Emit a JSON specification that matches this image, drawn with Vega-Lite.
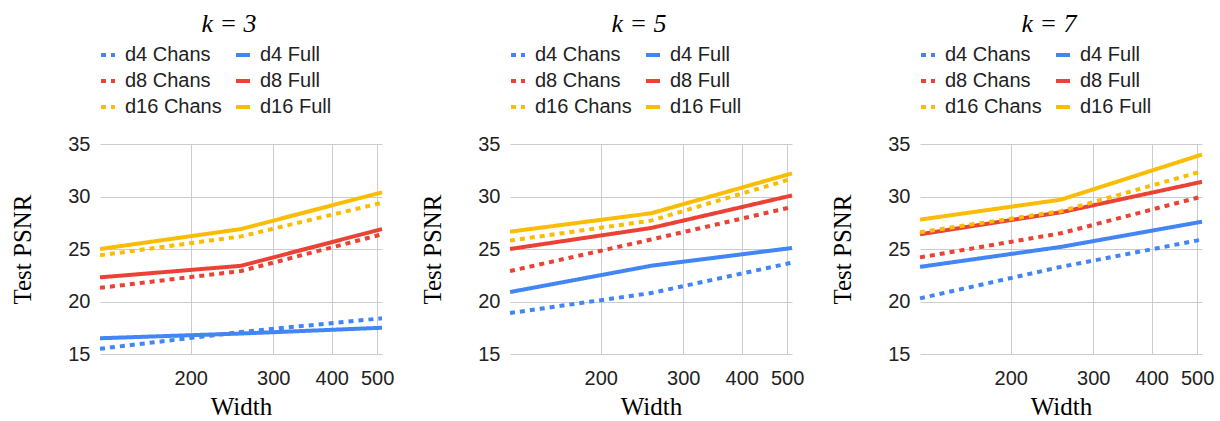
{
  "$schema": "https://vega.github.io/schema/vega-lite/v6.json",
  "background": "white",
  "padding": {"left": 10, "top": 11, "right": 5, "bottom": 5},
  "data": {"values": [
    {"k": 3, "series": "d4 Chans", "width": 128, "psnr": 15.5},
    {"k": 3, "series": "d4 Chans", "width": 256, "psnr": 17.1},
    {"k": 3, "series": "d4 Chans", "width": 512, "psnr": 18.4},
    {"k": 3, "series": "d4 Full", "width": 128, "psnr": 16.5},
    {"k": 3, "series": "d4 Full", "width": 256, "psnr": 16.95},
    {"k": 3, "series": "d4 Full", "width": 512, "psnr": 17.5},
    {"k": 3, "series": "d8 Chans", "width": 128, "psnr": 21.3},
    {"k": 3, "series": "d8 Chans", "width": 256, "psnr": 22.9},
    {"k": 3, "series": "d8 Chans", "width": 512, "psnr": 26.4},
    {"k": 3, "series": "d8 Full", "width": 128, "psnr": 22.3},
    {"k": 3, "series": "d8 Full", "width": 256, "psnr": 23.4},
    {"k": 3, "series": "d8 Full", "width": 512, "psnr": 26.9},
    {"k": 3, "series": "d16 Chans", "width": 128, "psnr": 24.4},
    {"k": 3, "series": "d16 Chans", "width": 256, "psnr": 26.2},
    {"k": 3, "series": "d16 Chans", "width": 512, "psnr": 29.4},
    {"k": 3, "series": "d16 Full", "width": 128, "psnr": 25.0},
    {"k": 3, "series": "d16 Full", "width": 256, "psnr": 26.9},
    {"k": 3, "series": "d16 Full", "width": 512, "psnr": 30.4},
    {"k": 5, "series": "d4 Chans", "width": 128, "psnr": 18.9},
    {"k": 5, "series": "d4 Chans", "width": 256, "psnr": 20.8},
    {"k": 5, "series": "d4 Chans", "width": 512, "psnr": 23.7},
    {"k": 5, "series": "d4 Full", "width": 128, "psnr": 20.9},
    {"k": 5, "series": "d4 Full", "width": 256, "psnr": 23.4},
    {"k": 5, "series": "d4 Full", "width": 512, "psnr": 25.1},
    {"k": 5, "series": "d8 Chans", "width": 128, "psnr": 22.9},
    {"k": 5, "series": "d8 Chans", "width": 256, "psnr": 25.9},
    {"k": 5, "series": "d8 Chans", "width": 512, "psnr": 29.0},
    {"k": 5, "series": "d8 Full", "width": 128, "psnr": 25.0},
    {"k": 5, "series": "d8 Full", "width": 256, "psnr": 27.0},
    {"k": 5, "series": "d8 Full", "width": 512, "psnr": 30.1},
    {"k": 5, "series": "d16 Chans", "width": 128, "psnr": 25.8},
    {"k": 5, "series": "d16 Chans", "width": 256, "psnr": 27.7},
    {"k": 5, "series": "d16 Chans", "width": 512, "psnr": 31.7},
    {"k": 5, "series": "d16 Full", "width": 128, "psnr": 26.65},
    {"k": 5, "series": "d16 Full", "width": 256, "psnr": 28.4},
    {"k": 5, "series": "d16 Full", "width": 512, "psnr": 32.2},
    {"k": 7, "series": "d4 Chans", "width": 128, "psnr": 20.3},
    {"k": 7, "series": "d4 Chans", "width": 256, "psnr": 23.3},
    {"k": 7, "series": "d4 Chans", "width": 512, "psnr": 25.9},
    {"k": 7, "series": "d4 Full", "width": 128, "psnr": 23.3},
    {"k": 7, "series": "d4 Full", "width": 256, "psnr": 25.2},
    {"k": 7, "series": "d4 Full", "width": 512, "psnr": 27.6},
    {"k": 7, "series": "d8 Chans", "width": 128, "psnr": 24.2},
    {"k": 7, "series": "d8 Chans", "width": 256, "psnr": 26.5},
    {"k": 7, "series": "d8 Chans", "width": 512, "psnr": 30.0},
    {"k": 7, "series": "d8 Full", "width": 128, "psnr": 26.4},
    {"k": 7, "series": "d8 Full", "width": 256, "psnr": 28.5},
    {"k": 7, "series": "d8 Full", "width": 512, "psnr": 31.4},
    {"k": 7, "series": "d16 Chans", "width": 128, "psnr": 26.6},
    {"k": 7, "series": "d16 Chans", "width": 256, "psnr": 28.6},
    {"k": 7, "series": "d16 Chans", "width": 512, "psnr": 32.4},
    {"k": 7, "series": "d16 Full", "width": 128, "psnr": 27.8},
    {"k": 7, "series": "d16 Full", "width": 256, "psnr": 29.7},
    {"k": 7, "series": "d16 Full", "width": 512, "psnr": 34.0}
  ]},
  "hconcat": [
    {
      "width": 282, "height": 210,
      "title": {"text": "k = 3"},
      "transform": [{"filter": "datum.k == 3"}],
      "mark": {"type": "line", "strokeWidth": 4, "strokeCap": "butt"},
      "encoding": {
        "x": {"field": "width", "type": "quantitative", "scale": {"type": "log", "domain": [128, 512], "nice": false}, "axis": {"values": [200, 300, 400, 500], "title": "Width", "format": "d"}},
        "y": {"field": "psnr", "type": "quantitative", "scale": {"domain": [15, 35], "nice": false, "zero": false}, "axis": {"values": [15, 20, 25, 30, 35], "title": "Test PSNR"}},
        "color": {"field": "series", "type": "nominal", "scale": {"domain": ["d4 Chans", "d4 Full", "d8 Chans", "d8 Full", "d16 Chans", "d16 Full"], "range": ["#4285F4", "#4285F4", "#EA4335", "#EA4335", "#FBBC04", "#FBBC04"]}, "legend": {"orient": "none", "legendX": -2, "legendY": -99, "title": null, "direction": "horizontal"}},
        "strokeDash": {"field": "series", "type": "nominal", "scale": {"domain": ["d4 Chans", "d4 Full", "d8 Chans", "d8 Full", "d16 Chans", "d16 Full"], "range": [[5, 5], [1, 0], [5, 5], [1, 0], [5, 5], [1, 0]]}, "legend": {"orient": "none", "legendX": -2, "legendY": -99, "title": null, "direction": "horizontal"}}
      }
    },
    {
      "width": 282, "height": 210,
      "title": {"text": "k = 5"},
      "transform": [{"filter": "datum.k == 5"}],
      "mark": {"type": "line", "strokeWidth": 4, "strokeCap": "butt"},
      "encoding": {
        "x": {"field": "width", "type": "quantitative", "scale": {"type": "log", "domain": [128, 512], "nice": false}, "axis": {"values": [200, 300, 400, 500], "title": "Width", "format": "d"}},
        "y": {"field": "psnr", "type": "quantitative", "scale": {"domain": [15, 35], "nice": false, "zero": false}, "axis": {"values": [15, 20, 25, 30, 35], "title": "Test PSNR"}},
        "color": {"field": "series", "type": "nominal", "scale": {"domain": ["d4 Chans", "d4 Full", "d8 Chans", "d8 Full", "d16 Chans", "d16 Full"], "range": ["#4285F4", "#4285F4", "#EA4335", "#EA4335", "#FBBC04", "#FBBC04"]}, "legend": {"orient": "none", "legendX": -2, "legendY": -99, "title": null, "direction": "horizontal"}},
        "strokeDash": {"field": "series", "type": "nominal", "scale": {"domain": ["d4 Chans", "d4 Full", "d8 Chans", "d8 Full", "d16 Chans", "d16 Full"], "range": [[5, 5], [1, 0], [5, 5], [1, 0], [5, 5], [1, 0]]}, "legend": {"orient": "none", "legendX": -2, "legendY": -99, "title": null, "direction": "horizontal"}}
      }
    },
    {
      "width": 282, "height": 210,
      "title": {"text": "k = 7"},
      "transform": [{"filter": "datum.k == 7"}],
      "mark": {"type": "line", "strokeWidth": 4, "strokeCap": "butt"},
      "encoding": {
        "x": {"field": "width", "type": "quantitative", "scale": {"type": "log", "domain": [128, 512], "nice": false}, "axis": {"values": [200, 300, 400, 500], "title": "Width", "format": "d"}},
        "y": {"field": "psnr", "type": "quantitative", "scale": {"domain": [15, 35], "nice": false, "zero": false}, "axis": {"values": [15, 20, 25, 30, 35], "title": "Test PSNR"}},
        "color": {"field": "series", "type": "nominal", "scale": {"domain": ["d4 Chans", "d4 Full", "d8 Chans", "d8 Full", "d16 Chans", "d16 Full"], "range": ["#4285F4", "#4285F4", "#EA4335", "#EA4335", "#FBBC04", "#FBBC04"]}, "legend": {"orient": "none", "legendX": -2, "legendY": -99, "title": null, "direction": "horizontal"}},
        "strokeDash": {"field": "series", "type": "nominal", "scale": {"domain": ["d4 Chans", "d4 Full", "d8 Chans", "d8 Full", "d16 Chans", "d16 Full"], "range": [[5, 5], [1, 0], [5, 5], [1, 0], [5, 5], [1, 0]]}, "legend": {"orient": "none", "legendX": -2, "legendY": -99, "title": null, "direction": "horizontal"}}
      }
    }
  ],
  "spacing": 128,
  "bounds": "flush",
  "resolve": {"legend": {"color": "independent", "strokeDash": "independent"}},
  "config": {
    "view": {"stroke": null},
    "title": {"font": "Liberation Serif", "fontStyle": "italic", "fontWeight": "normal", "fontSize": 26, "color": "#000", "anchor": "middle", "frame": "group", "offset": 8, "dx": -12},
    "axis": {
      "domain": false, "ticks": false, "grid": true, "gridColor": "#cccccc", "gridWidth": 1,
      "labelFont": "Liberation Sans", "labelFontSize": 20, "labelColor": "#222222",
      "titleFont": "Liberation Serif", "titleFontSize": 25, "titleFontWeight": "normal", "titleColor": "#000000"
    },
    "axisX": {"labelPadding": 14, "titlePadding": 6, "labelFlush": false, "labelOverlap": false},
    "axisY": {"labelPadding": 10, "titlePadding": 32},
    "legend": {
      "columns": 2, "symbolType": "stroke", "symbolStrokeWidth": 4, "symbolSize": 196,
      "labelFont": "Liberation Sans", "labelFontSize": 20, "labelColor": "#222222",
      "rowPadding": 6, "columnPadding": 6, "labelOffset": 7, "symbolOffset": 0
    }
  }
}
